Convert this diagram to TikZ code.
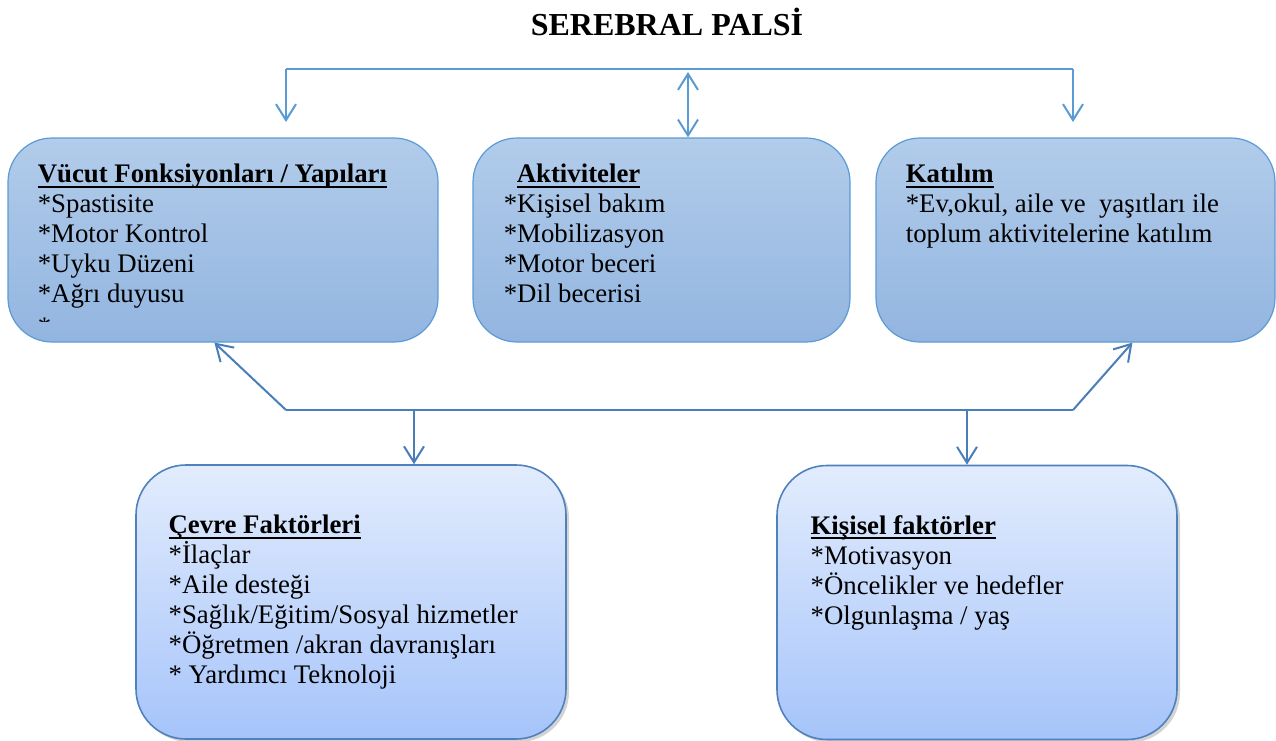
\documentclass[tikz,border=0pt]{standalone}
\usepackage{fontspec}
\setmainfont{Liberation Serif}
\usepackage{tikz}
\usetikzlibrary{arrows.meta}
\usetikzlibrary{positioning}
\usetikzlibrary{shadows}
\usetikzlibrary{calc}

\definecolor{cizgi}{HTML}{5B9BD5}
\definecolor{cizgikoyu}{HTML}{4A7EBB}
\definecolor{ustacik}{HTML}{B2CCEA}
\definecolor{ustkoyu}{HTML}{92B5E0}
\definecolor{altacik}{HTML}{E2ECFD}
\definecolor{altkoyu}{HTML}{A6C4FA}
\definecolor{altcerceve}{HTML}{4F81BD}

% basligin altini ciz, ilk satira sabit yukseklik ver
\newcommand{\baslik}[1]{\rule{0pt}{12pt}\sbox0{\bfseries #1}\rlap{\usebox0}\rule[-2.6pt]{\wd0}{1pt}}

\tikzset{
	>={Straight Barb[length=8pt,width=10pt]},
	metin/.style={anchor=north west,align=left,inner sep=0pt,font=\fontsize{13.4}{15}\selectfont}
}

\begin{document}
\begin{tikzpicture}[x=0.5pt,y=-0.5pt]
	          \useasboundingbox (0,0) rectangle (1276,740);
	          \node[anchor=base,font=\fontsize{16}{19}\selectfont\bfseries] (baslik) at (667,35) {SEREBRAL PALSİ};
	          % ust kutular
	          \begin{scope}[every node/.style={rectangle,rounded corners=22pt,draw=cizgi,line width=0.6pt,top color=ustacik,bottom color=ustkoyu,minimum height=102pt,inner sep=0pt}]
	            \node[minimum width=215pt] (vucut) at (223,240) {};
	            \node[minimum width=188.5pt] (aktivite) at (661.5,240) {};
	            \node[minimum width=199.5pt] (katilim) at (1075.5,240) {};
	          \end{scope}
	          % alt kutular
	          \begin{scope}[every node/.style={rectangle,rounded corners=25pt,draw=altcerceve,line width=0.8pt,top color=altacik,bottom color=altkoyu,minimum height=137pt,inner sep=0pt,drop shadow={opacity=0.35,shadow xshift=1.5pt,shadow yshift=-1.5pt}}]
	            \node[minimum width=215pt] (cevre) at (351,602) {};
	            \node[minimum width=200pt] (kisisel) at (977,602.5) {};
	          \end{scope}
	          % metinler
	          \node[metin] (vucutyazi) at ($(vucut.north west)+(30,21)$) {\baslik{Vücut Fonksiyonları / Yapıları}\\*Spastisite\\*Motor Kontrol\\*Uyku Düzeni\\*Ağrı duyusu};
	          \begin{scope}
	            \clip (vucut.north west) rectangle ($(vucut.south east)+(0,-21)$);
	            \node[metin,anchor=base west] (yildiz) at ($(vucut.north west)+(30,198)$) {*};
	          \end{scope}
	          \node[metin] (aktiviteyazi) at ($(aktivite.north west)+(31,21)$) {\hspace*{6.5pt}\baslik{Aktiviteler}\\*Kişisel bakım\\*Mobilizasyon\\*Motor beceri\\*Dil becerisi};
	          \node[metin] (katilimyazi) at ($(katilim.north west)+(30,21)$) {\baslik{Katılım}\\*Ev,okul, aile ve\ \ yaşıtları ile\\toplum aktivitelerine katılım};
	          \node[metin] (cevreyazi) at ($(cevre.north west)+(33,45)$) {\baslik{Çevre Faktörleri}\\*İlaçlar\\*Aile desteği\\*Sağlık/Eğitim/Sosyal hizmetler\\*Öğretmen /akran davranışları\\* Yardımcı Teknoloji};
	          \node[metin] (kisiselyazi) at ($(kisisel.north west)+(34,45)$) {\baslik{Kişisel faktörler}\\*Motivasyon\\*Öncelikler ve hedefler\\*Olgunlaşma / yaş};
	          % baglantilar
	          \coordinate (ustsol) at (286,69);
	          \coordinate (ustsag) at (1073,69);
	          \coordinate (oksol) at (286,122);
	          \coordinate (oksag) at (1073,122);
	          \coordinate (ustorta) at (688,72);
	          \coordinate (altsol) at (286,410);
	          \coordinate (altsag) at (1073,410);
	          \coordinate (ayrimsol) at (414,410);
	          \coordinate (ayrimsag) at (967,410);
	          \draw[cizgi,line width=0.7pt] (ustsol) -- (ustsag);
	          \begin{scope}[every edge/.style={draw=cizgi,line width=1pt,->}]
	            \path (ustsol) edge (oksol);
	            \path (ustsag) edge (oksag);
	            \path (ustorta) edge[<->] (ustorta |- aktivite.north);
	          \end{scope}
	          \draw[cizgikoyu,line width=1pt] (altsol) -- (altsag);
	          \begin{scope}[every edge/.style={draw=cizgikoyu,line width=1pt,->}]
	            \path (altsol) edge ($(vucut.south west)+(207,0)$);
	            \path (altsag) edge ($(katilim.south west)+(257,0)$);
	            \path (ayrimsol) edge (ayrimsol |- cevre.north);
	            \path (ayrimsag) edge (ayrimsag |- kisisel.north);
	          \end{scope}
	        \end{tikzpicture}
\end{document}
